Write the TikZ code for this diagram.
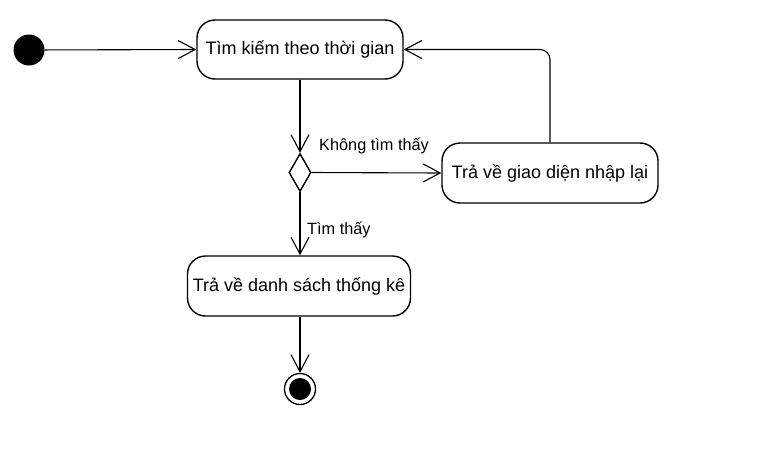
\documentclass[tikz,border=0pt]{standalone}
\usepackage{fontspec}
\setmainfont{Liberation Sans}
\usetikzlibrary{arrows.meta,shapes.geometric}
\begin{document}
\begin{tikzpicture}[x=1pt,y=-1pt,
  act/.style={draw,line width=1.4pt,rounded corners=18pt,minimum height=59pt,inner sep=0pt,font=\fontsize{18}{21}\selectfont},
  flow/.style={line width=1.1pt,-{Straight Barb[length=17pt,width=18pt,line width=1.1pt]}},
  lbl/.style={font=\fontsize{16.3}{19}\selectfont,inner sep=0pt,anchor=west}]
\useasboundingbox (0,0) rectangle (781,456);
\node[circle,fill=black,minimum size=31pt,inner sep=0pt] (start) at (29,50) {};
\node[act,minimum width=206pt] (b1) at (300,49.5) {Tìm kiếm theo thời gian};
\node[diamond,draw,line width=1.4pt,minimum width=22pt,minimum height=38pt,inner sep=0pt,aspect=0.58] (d) at (300,172.5) {};
\node[act,minimum width=216pt,minimum height=60pt] (b2) at (550,173) {Trả về giao diện nhập lại};
\node[act,minimum width=223pt,minimum height=60pt] (b3) at (299,286) {Trả về danh sách thống kê};
\node[circle,draw,line width=1.3pt,minimum size=31pt,inner sep=0pt] (end) at (300,389) {};
\node[circle,fill=black,minimum size=22pt,inner sep=0pt] at (end.center) {};
\draw[flow] (start) -- (b1.west);
\draw[flow] (b1.south -| d.north) -- (d.north);
\draw[flow] (d.east) -- (b2.west);
\draw[flow] (d.south) -- (b3.north -| d.south);
\draw[flow] (b3.south -| end.north) -- (end.north);
\draw[flow,rounded corners=10pt] (b2.north) |- (b1.east);
\node[lbl] (l1) at (319,146) {Không tìm thấy};
\node[lbl] (l2) at (307,230) {Tìm thấy};
\end{tikzpicture}
\end{document}
